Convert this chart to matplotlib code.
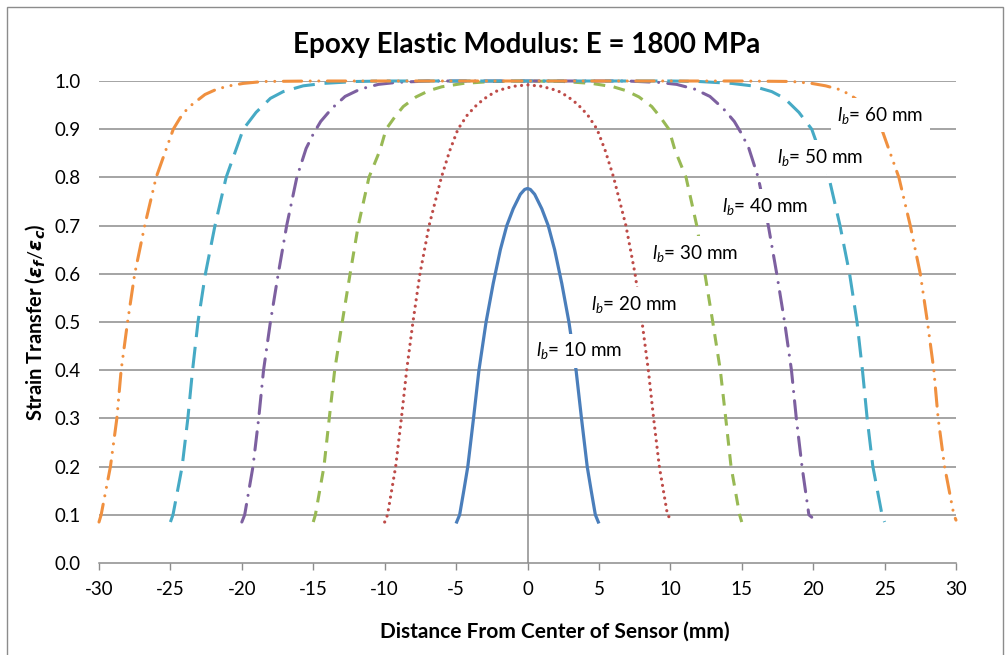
import matplotlib
matplotlib.use("Agg")
import matplotlib.pyplot as plt
from matplotlib.patches import Rectangle

# ---------------- data ----------------
x10 = [-5.0, -4.75, -4.46, -4.18, -3.78, -3.40, -2.90, -2.40, -1.90, -1.45, -1.00, -0.50, -0.20, 0.0,
       0.20, 0.50, 1.00, 1.45, 1.90, 2.40, 2.90, 3.40, 3.78, 4.18, 4.46, 4.75, 5.0]
y10 = [0.082, 0.10, 0.15, 0.20, 0.30, 0.40, 0.50, 0.58, 0.65, 0.70, 0.735, 0.765, 0.775, 0.777,
       0.775, 0.765, 0.735, 0.70, 0.65, 0.58, 0.50, 0.40, 0.30, 0.20, 0.15, 0.10, 0.082]

x20 = [-10.0, -9.80, -9.23, -8.83, -8.46, -8.02, -7.53, -6.89, -6.03, -5.45, -4.87, -4.20, -3.50, -2.80, -2.10, -1.00, 0.0,
       1.00, 2.10, 2.80, 3.50, 4.20, 4.87, 5.45, 6.03, 6.89, 7.53, 8.02, 8.46, 8.83, 9.23, 9.80, 10.0]
y20 = [0.085, 0.10, 0.20, 0.30, 0.40, 0.50, 0.60, 0.70, 0.80, 0.855, 0.90, 0.93, 0.952, 0.968, 0.980, 0.989, 0.992,
       0.989, 0.980, 0.968, 0.952, 0.93, 0.90, 0.855, 0.80, 0.70, 0.60, 0.50, 0.40, 0.30, 0.20, 0.10, 0.092]

x30 = [-15.0, -14.85, -14.25, -13.88, -13.50, -12.97, -12.42, -11.85, -11.10, -10.32, -9.90, -9.30, -8.70, -7.80, -6.90,
       -6.00, -4.50, -2.50, 0.0, 2.50, 4.50, 6.00, 6.90, 7.80, 8.70, 9.30, 9.90, 10.32, 11.10, 11.85, 12.42, 12.97,
       13.50, 13.88, 14.25, 14.85, 15.0]
y30 = [0.085, 0.10, 0.20, 0.30, 0.40, 0.50, 0.60, 0.70, 0.80, 0.857, 0.90, 0.925, 0.947, 0.967, 0.980,
       0.988, 0.995, 0.999, 1.0, 0.999, 0.995, 0.988, 0.980, 0.967, 0.947, 0.925, 0.90, 0.857, 0.80, 0.70, 0.60, 0.50,
       0.40, 0.30, 0.20, 0.10, 0.085]

x40 = [-20.0, -19.80, -19.22, -18.82, -18.48, -18.00, -17.45, -16.86, -16.15, -15.50, -15.00, -14.48, -13.70, -12.77,
       -11.72, -10.44, -9.20, -7.00, 0.0, 7.00, 9.20, 10.44, 11.72, 12.77, 13.70, 14.48, 15.00, 15.50, 16.15, 16.86,
       17.45, 18.00, 18.48, 18.82, 19.22, 19.70, 19.90]
y40 = [0.085, 0.10, 0.20, 0.30, 0.40, 0.50, 0.60, 0.70, 0.80, 0.86, 0.89, 0.916, 0.943, 0.968,
       0.983, 0.993, 0.997, 1.0, 1.0, 1.0, 0.997, 0.993, 0.983, 0.968, 0.943, 0.916, 0.89, 0.86, 0.80, 0.70,
       0.60, 0.50, 0.40, 0.30, 0.20, 0.10, 0.095]

x50 = [-25.0, -24.82, -24.18, -23.78, -23.45, -23.07, -22.55, -21.88, -21.10, -19.90, -19.00, -18.00, -17.10, -15.70,
       -14.30, -12.00, -10.0, 0.0, 10.0, 12.00, 14.30, 15.70, 17.10, 18.00, 19.00, 19.90, 21.10, 21.88, 22.55, 23.07,
       23.45, 23.78, 24.18, 24.82, 25.0]
y50 = [0.085, 0.10, 0.20, 0.30, 0.40, 0.50, 0.60, 0.70, 0.80, 0.90, 0.935, 0.964, 0.978, 0.990,
       0.995, 0.999, 1.0, 1.0, 1.0, 0.999, 0.995, 0.990, 0.978, 0.964, 0.935, 0.90, 0.80, 0.70, 0.60, 0.50,
       0.40, 0.30, 0.20, 0.10, 0.085]

x60 = [-30.0, -29.85, -29.20, -28.75, -28.45, -28.00, -27.50, -26.80, -26.00, -24.80, -24.33, -23.75, -22.58, -21.76,
       -20.87, -19.90, -18.50, -15.0, 0.0, 15.0, 18.50, 19.90, 20.87, 21.76, 22.58, 23.75, 24.33, 24.80, 26.00, 26.80,
       27.50, 28.00, 28.45, 28.75, 29.20, 29.85, 30.0]
y60 = [0.085, 0.10, 0.20, 0.30, 0.40, 0.50, 0.60, 0.70, 0.80, 0.90, 0.923, 0.945, 0.972, 0.983,
       0.990, 0.995, 0.999, 1.0, 1.0, 1.0, 0.999, 0.995, 0.990, 0.983, 0.972, 0.945, 0.923, 0.90, 0.80, 0.70,
       0.60, 0.50, 0.40, 0.30, 0.20, 0.10, 0.089]

bond_lengths = [10, 20, 30, 40, 50, 60]
series_x = [x10, x20, x30, x40, x50, x60]
series_y = [y10, y20, y30, y40, y50, y60]
label_x = [3.6, 7.45, 11.75, 16.65, 20.5, 24.7]
label_y = [0.44, 0.537, 0.643, 0.74, 0.842, 0.929]

x_ticks = [-30, -25, -20, -15, -10, -5, 0, 5, 10, 15, 20, 25, 30]
y_ticks = [0.0, 0.1, 0.2, 0.3, 0.4, 0.5, 0.6, 0.7, 0.8, 0.9, 1.0]

title = "Epoxy Elastic Modulus: E = 1800 MPa"
x_label = "Distance From Center of Sensor (mm)"
y_label = r"Strain Transfer ($\mathbfit{\varepsilon_f}/\mathbfit{\varepsilon_c}$)"

# ---------------- styles ----------------
colors = ["#4A7EBB", "#BE4B48", "#98B954", "#7D60A0", "#46AAC5", "#F0903F"]
lws = [2.3, 2.3, 2.2, 2.2, 2.2, 2.2]
dashes = [None, (0.01, 2.0), (3.8, 2.8), (6.0, 3.0, 0.01, 3.0), (7.0, 3.2), (6.0, 2.8, 0.01, 2.8, 0.01, 2.8)]
caps = ["round", "round", "butt", "round", "butt", "round"]

plt.rcParams["font.family"] = ["Lato", "DejaVu Sans"]
plt.rcParams["mathtext.fontset"] = "custom"
plt.rcParams["mathtext.it"] = "Lato:italic"
plt.rcParams["mathtext.rm"] = "Lato"
plt.rcParams["mathtext.bf"] = "DejaVu Sans:bold"
plt.rcParams["mathtext.bfit"] = "DejaVu Sans:italic:bold"

W, H = 1006, 655
fig = plt.figure(figsize=(W / 100, H / 100), dpi=100)
ax = fig.add_axes([99 / W, 1 - 563 / H, (956 - 99) / W, (563 - 81) / H])

grid_c = "#8C8C8C"
ax.set_xlim(-30, 30)
ax.set_ylim(0, 1.0)
ax.set_xticks(x_ticks)
ax.set_yticks(y_ticks)
ax.set_xticklabels([str(t) for t in x_ticks])
ax.set_yticklabels([f"{t:.1f}" for t in y_ticks])
for s in ["left", "right", "top"]:
    ax.spines[s].set_visible(False)
ax.spines["bottom"].set_color(grid_c)
ax.spines["bottom"].set_linewidth(1.1)
ax.tick_params(axis="x", direction="out", length=5, width=1.0, color=grid_c, pad=8, labelsize=13.5,
               labelcolor="black")
ax.tick_params(axis="y", length=0, pad=13, labelsize=13.5, labelcolor="black")
for yv in y_ticks[1:]:
    ax.axhline(yv, color=grid_c, lw=1.1, zorder=1)
ax.axvline(0, color=grid_c, lw=1.1, zorder=1)

for xs, ys, c, lw, d, cp in zip(series_x, series_y, colors, lws, dashes, caps):
    ln, = ax.plot(xs, ys, color=c, lw=lw, zorder=3, clip_on=False,
                  solid_capstyle="butt", dash_capstyle=cp, solid_joinstyle="round")
    if d is not None:
        ln.set_dashes(d)

for lb, lx, ly in zip(bond_lengths, label_x, label_y):
    ax.text(lx, ly, rf"$l_b$= {lb} mm", ha="center", va="center", fontsize=13.6, zorder=5,
            bbox=dict(boxstyle="square,pad=0.35", fc="white", ec="none"))

fig.text(527 / W, 1 - 45 / H, title, ha="center", va="center", fontsize=20, fontweight="bold")
fig.text(555 / W, 1 - 632 / H, x_label, ha="center", va="center", fontsize=15, fontweight="bold")
fig.text(35 / W, 1 - 322 / H, y_label, ha="center", va="center", rotation=90, fontsize=14.5,
         fontweight="bold")

fig.patches.append(Rectangle((7 / W, -0.05), (1003 - 7) / W, 1.05 - 7 / H, transform=fig.transFigure,
                             fill=False, ec="#8C8C8C", lw=1.0))

fig.savefig("out.png", dpi=100)
